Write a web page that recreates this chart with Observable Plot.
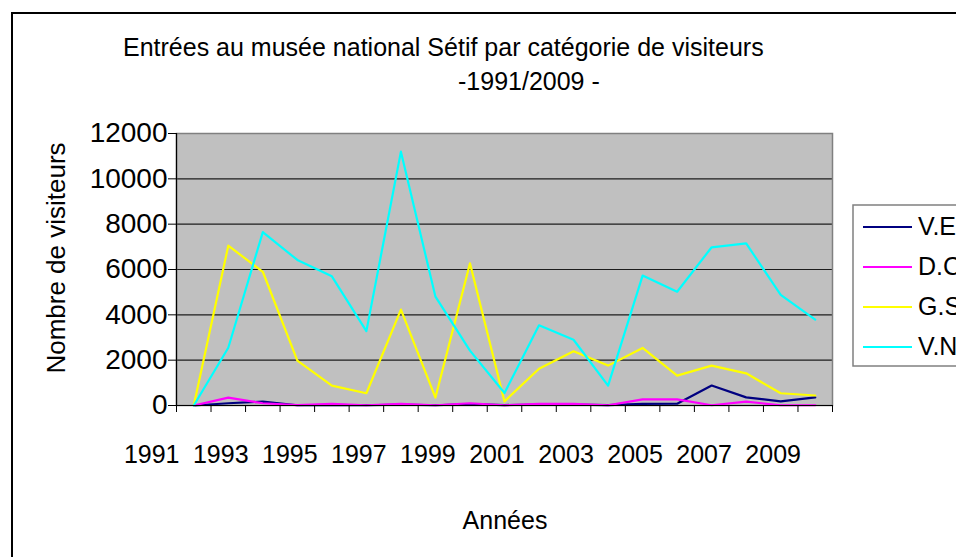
<!DOCTYPE html>
<html><head><meta charset="utf-8">
<script src="https://cdn.jsdelivr.net/npm/d3@7"></script>
<script src="https://cdn.jsdelivr.net/npm/@observablehq/plot@0.6"></script>
<style>
body{margin:0;background:#fff;}
#chart{width:956px;height:557px;overflow:hidden;position:relative;}
#chart svg{display:block;}
</style>
</head><body><div id="chart"></div>
<script>
// ---- data ----
const years = [1991,1992,1993,1994,1995,1996,1997,1998,1999,2000,2001,2002,2003,2004,2005,2006,2007,2008,2009];
const tickYears = [1991,1993,1995,1997,1999,2001,2003,2005,2007,2009];
const yTicks = [0,2000,4000,6000,8000,10000,12000];
const series = ["V.E","D.C","G.S","V.N"];
const colors = ["#000080","#FF00FF","#FFFF00","#00FFFF"];
const VE = [0,100,170,10,30,10,40,10,60,20,40,40,20,70,80,880,360,180,360];
const DC = [0,350,100,20,70,10,70,10,100,10,70,70,10,270,270,10,170,10,10];
const GS = [0,7050,5900,1980,880,540,4230,350,6270,180,1620,2390,1760,2540,1320,1760,1420,540,440];
const VN = [0,2550,7650,6420,5700,3280,11200,4800,2420,550,3540,2900,880,5730,5020,6980,7150,4880,3790];
const title1 = "Entrées au musée national Sétif par catégorie de visiteurs";
const title2 = "-1991/2009 -";
const yLabel = "Nombre de visiteurs";
const xLabel = "Années";

const values = [VE, DC, GS, VN];
const table = series.flatMap((s, k) => years.map((yr, i) => ({series: s, year: yr, value: values[k][i]})));
const boundaries = years.map(y => y - 0.5).concat([years[years.length - 1] + 0.5]);

const FONT = "'Liberation Sans', Arial, Helvetica, sans-serif";
const W = 956, H = 557;

const chart = Plot.plot({
  width: W, height: H,
  marginLeft: 176, marginRight: 124, marginTop: 133, marginBottom: 152,
  style: {fontFamily: FONT, background: "white", color: "#000"},
  x: {domain: [boundaries[0], boundaries[boundaries.length - 1]], axis: null},
  y: {domain: [0, 12000], axis: null},
  color: {domain: series, range: colors},
  marks: [
    Plot.frame({fill: "#C0C0C0"}),
    Plot.gridY(yTicks.slice(1, -1), {stroke: "#000", strokeOpacity: 0.85, strokeWidth: 1.2}),
    Plot.frame({stroke: "#808080", strokeWidth: 1.5}),
    Plot.lineY(table, {x: "year", y: "value", z: "series", stroke: "series", strokeWidth: 2.2}),
    Plot.ruleX([boundaries[0]], {stroke: "#000", strokeWidth: 1.2}),
    Plot.ruleY([0], {stroke: "#000", strokeWidth: 1.2}),
    Plot.axisY(yTicks, {tickSize: 8, tickPadding: 1, fontSize: 28, label: null, stroke: "#000",
      tickFormat: d => String(d)}),
    Plot.axisX(boundaries, {tickSize: 7, tickFormat: () => "", label: null, stroke: "#000"}),
    Plot.text(tickYears, {x: d => d - 0.5, frameAnchor: "bottom", lineAnchor: "bottom", textAnchor: "end",
      dx: 3, dy: 57, text: d => String(d), fontSize: 25, fill: "#000"})
  ]
});

const svg = d3.select(chart);
svg.style("overflow", "hidden");
// outer border
svg.append("rect").attr("x", 12).attr("y", 13).attr("width", 1000).attr("height", 600)
  .attr("fill", "none").attr("stroke", "#000").attr("stroke-width", 2);
// titles
svg.append("text").attr("x", 123).attr("y", 56).attr("text-anchor", "start").attr("font-size", 25)
  .attr("font-family", FONT).attr("fill", "#000").text(title1);
svg.append("text").attr("x", 458).attr("y", 90).attr("text-anchor", "start").attr("font-size", 25)
  .attr("font-family", FONT).attr("fill", "#000").text(title2);
// axis titles
svg.append("text").attr("transform", "translate(65,258) rotate(-90)").attr("text-anchor", "middle")
  .attr("font-size", 26).attr("font-family", FONT).attr("fill", "#000").text(yLabel);
svg.append("text").attr("x", 505).attr("y", 529).attr("text-anchor", "middle")
  .attr("font-size", 25).attr("font-family", FONT).attr("fill", "#000").text(xLabel);
// legend
const lg = svg.append("g");
lg.append("rect").attr("x", 853).attr("y", 205).attr("width", 200).attr("height", 161)
  .attr("fill", "#fff").attr("stroke", "#808080").attr("stroke-width", 1.5);
series.forEach((s, k) => {
  const yy = 227 + k * 40;
  lg.append("line").attr("x1", 863).attr("x2", 912).attr("y1", yy).attr("y2", yy)
    .attr("stroke", colors[k]).attr("stroke-width", 2.2);
  lg.append("text").attr("x", 918).attr("y", yy + 8).attr("text-anchor", "start").attr("font-size", 25)
    .attr("font-family", FONT).attr("fill", "#000").text(s);
});
document.getElementById("chart").appendChild(chart);
</script>
</body></html>
